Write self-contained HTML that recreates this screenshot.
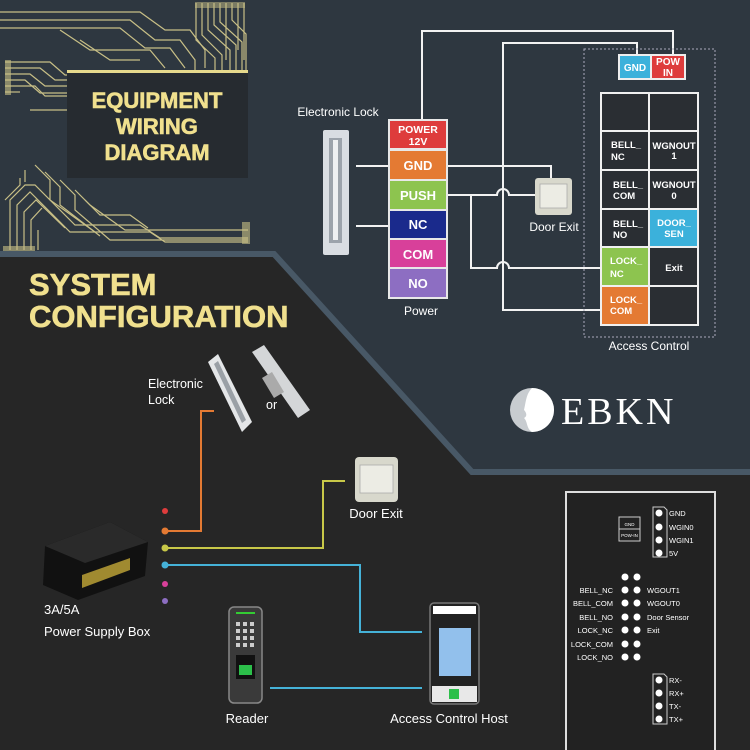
<!DOCTYPE html>
<html><head><meta charset="utf-8"><style>
html,body{margin:0;padding:0;width:750px;height:750px;overflow:hidden;background:#262626;}
svg{display:block;font-family:"Liberation Sans",Arial,sans-serif;}
</style></head><body>
<svg width="750" height="750" viewBox="0 0 750 750" xmlns="http://www.w3.org/2000/svg">
<rect width="750" height="750" fill="#262626"/>
<polygon points="0,0 750,0 750,470 473,470 275,252 0,252" fill="#2e3740"/>
<polyline points="0,254 274,254 472,472 750,472" fill="none" stroke="#485866" stroke-width="6"/>

<!-- circuit traces -->
<g stroke="#c8bf86" stroke-width="1.2" fill="none">
<path d="M0,12 H140 L165,30 H190 L205,50 V68"/>
<path d="M0,20 H130 L155,40 H180 L195,60 V70"/>
<path d="M0,28 H120 L145,48 H170 L185,68"/>
<path d="M60,30 L90,50 H150 L165,68"/>
<path d="M80,40 L110,60 H140"/>
<path d="M196,3 V40 L215,58 V70"/><path d="M202,3 V35 L222,55 V70"/><path d="M208,3 V30 L230,50 V70"/>
<path d="M214,3 V25 L236,45 V70"/><path d="M220,3 V22 L242,42 V70"/><path d="M226,3 V60"/><path d="M232,3 V20 L246,34 V70"/>
<path d="M238,3 V50"/><path d="M244,3 V60"/>
<path d="M5,62 H50 L65,75 H67"/><path d="M5,68 H40 L55,80 H67"/><path d="M5,74 H30 L45,86 H67"/>
<path d="M5,80 H25 L40,93 H67"/><path d="M5,86 H35 L45,96 H67"/><path d="M5,92 H20"/><path d="M30,110 H67"/>
<path d="M5,200 L20,185 V178"/><path d="M10,250 V200 L25,185 H35 L75,225 H140 L160,238 H248"/>
<path d="M17,250 V205 L30,192 L70,232 H150 L165,242 H248"/>
<path d="M24,250 V212 L36,200 L65,228"/>
<path d="M31,250 V220 L42,208"/><path d="M38,250 V230"/>
<path d="M35,165 L50,180 V200 L95,232"/><path d="M45,172 L60,187 V205 L100,236"/>
<path d="M25,170 V182"/><path d="M60,180 L75,195 V210 L110,240 H248"/><path d="M75,190 L90,205 L125,230 H248"/>
<path d="M85,200 L100,215 H130 L148,228"/>
</g>
<g fill="#c8bf86"><rect x="5" y="60" width="6" height="35" opacity=".6"/><rect x="242" y="222" width="8" height="22" opacity=".6"/><rect x="195" y="2" width="50" height="6" opacity=".5"/><rect x="3" y="246" width="32" height="5" opacity=".6"/></g>

<!-- title box -->
<rect x="67" y="72" width="181" height="106" fill="#262b30"/>
<rect x="67" y="70" width="181" height="3" fill="#e6d98c"/>
<g fill="#f0e08e" font-weight="bold" font-size="22" text-anchor="middle" stroke="#f0e08e" stroke-width="0.6">
<text x="157" y="108">EQUIPMENT</text><text x="157" y="134">WIRING</text><text x="157" y="160">DIAGRAM</text>
</g>
<g fill="#f0e08e" font-weight="bold" font-size="31" stroke="#f0e08e" stroke-width="0.6">
<text x="29" y="295">SYSTEM</text><text x="29" y="327">CONFIGURATION</text>
</g>

<!-- top diagram wires -->
<g stroke="#f2f2f2" stroke-width="2" fill="none">
<path d="M422,120 V31 H673 V54"/>
<path d="M637,54 V43 H503 V310 H600"/>
<path d="M447,166 H551 V178"/>
<path d="M447,195 H497 a6,6 0 0 1 12,0 H535"/>
<path d="M471,195 V268 H497 a6,6 0 0 1 12,0 H600"/>
<path d="M356,166 H390"/><path d="M356,226 H390"/>
</g>
<text x="338" y="116" fill="#fff" font-size="12" text-anchor="middle">Electronic Lock</text>
<!-- lock -->
<rect x="323" y="130" width="26" height="125" rx="2" fill="#d9dde2"/>
<rect x="329" y="138" width="13" height="105" fill="#9ca3ab"/>
<rect x="333" y="140" width="5" height="100" fill="#eef0f2"/>

<!-- power blocks -->
<rect x="388" y="119" width="60" height="180" fill="#e8e8e8"/>
<g font-weight="bold" fill="#fff" text-anchor="middle">
<rect x="390" y="121" width="56" height="27" fill="#de3c3c"/><text x="418" y="133" font-size="10.5">POWER</text><text x="418" y="145" font-size="10.5">12V</text>
<rect x="390" y="151" width="56" height="28" fill="#e47a33"/><text x="418" y="170" font-size="13">GND</text>
<rect x="390" y="181" width="56" height="28" fill="#8dc44f"/><text x="418" y="200" font-size="13">PUSH</text>
<rect x="390" y="211" width="56" height="27" fill="#1a2a8c"/><text x="418" y="229" font-size="13">NC</text>
<rect x="390" y="240" width="56" height="27" fill="#d8409a"/><text x="418" y="259" font-size="13">COM</text>
<rect x="390" y="269" width="56" height="28" fill="#8d6ec2"/><text x="418" y="288" font-size="13">NO</text>
</g>
<text x="421" y="315" fill="#fff" font-size="12" text-anchor="middle">Power</text>

<!-- door exit top -->
<rect x="535" y="178" width="37" height="37" rx="3" fill="#d8d8cc"/>
<rect x="540" y="184" width="27" height="24" fill="#ecece4" stroke="#aaa" stroke-width=".8"/>
<text x="554" y="231" fill="#fff" font-size="12" text-anchor="middle">Door Exit</text>

<!-- access control -->
<rect x="584" y="49" width="131" height="288" fill="none" stroke="#aab" stroke-width="1" stroke-dasharray="2,2"/>
<rect x="618" y="54" width="68" height="26" fill="#eee"/>
<rect x="620" y="56" width="30" height="22" fill="#3bb1db"/><rect x="652" y="56" width="32" height="22" fill="#de3c3c"/>
<g fill="#fff" font-weight="bold" font-size="10" text-anchor="middle">
<text x="635" y="71">GND</text><text x="668" y="65">POW</text><text x="668" y="76">IN</text></g>
<rect x="600" y="92" width="99" height="234" fill="#f0f0f0"/>
<g fill="#2a2e33">
<rect x="602" y="94" width="46" height="36"/><rect x="650" y="94" width="47" height="36"/>
<rect x="602" y="132" width="46" height="37"/><rect x="650" y="132" width="47" height="37"/>
<rect x="602" y="171" width="46" height="37"/><rect x="650" y="171" width="47" height="37"/>
<rect x="602" y="210" width="46" height="36"/><rect x="650" y="210" width="47" height="36" fill="#3bb1db"/>
<rect x="602" y="248" width="46" height="37" fill="#8dc44f"/><rect x="650" y="248" width="47" height="37"/>
<rect x="602" y="287" width="46" height="37" fill="#e47a33"/><rect x="650" y="287" width="47" height="37"/>
</g>
<g fill="#fff" font-weight="bold" font-size="9.5">
<text x="611" y="148">BELL_</text><text x="611" y="160">NC</text>
<text x="613" y="188">BELL_</text><text x="613" y="199">COM</text>
<text x="613" y="227">BELL_</text><text x="613" y="238">NO</text>
<text x="610" y="264">LOCK_</text><text x="610" y="277">NC</text>
<text x="610" y="303">LOCK_</text><text x="610" y="314">COM</text>
<g text-anchor="middle"><text x="674" y="149">WGNOUT</text><text x="674" y="159">1</text>
<text x="674" y="188">WGNOUT</text><text x="674" y="199">0</text>
<text x="674" y="226">DOOR_</text><text x="674" y="237">SEN</text>
<text x="674" y="271">Exit</text></g>
</g>
<text x="649" y="350" fill="#fff" font-size="12" text-anchor="middle">Access Control</text>

<!-- logo -->
<circle cx="532" cy="410" r="22" fill="#c8ccd0"/>
<path d="M532,388 a22,22 0 0 1 0,44 c-6,-4 -4,-10 -8,-14 c4,-2 2,-6 0,-8 c2,-8 2,-16 8,-22z" fill="#fff"/>
<text x="561" y="424" fill="#fff" font-family="Liberation Serif,serif" font-size="38" letter-spacing="3">EBKN</text>

<!-- bottom wires -->
<g fill="none" stroke-width="2">
<path d="M165,531 H201 V411 H214" stroke="#e47a33"/>
<path d="M165,548 H323 V481 H345" stroke="#c8c848"/>
<path d="M165,565 H360 V632 H422" stroke="#45b2d8"/>
<path d="M270,688 H422" stroke="#45b2d8"/>
</g>
<circle cx="165" cy="511" r="3" fill="#de3c3c"/><circle cx="165" cy="531" r="3.5" fill="#e47a33"/>
<circle cx="165" cy="548" r="3.5" fill="#c8c848"/><circle cx="165" cy="565" r="3.5" fill="#45b2d8"/>
<circle cx="165" cy="584" r="3" fill="#d8409a"/><circle cx="165" cy="601" r="3" fill="#8d6ec2"/>

<!-- bottom locks -->
<g fill="#fff" font-size="12.5"><text x="148" y="388">Electronic</text><text x="148" y="404">Lock</text><text x="266" y="409">or</text></g>
<polygon points="208,362 218,354 252,422 242,432" fill="#e4e6e8"/>
<polygon points="214,364 218,361 246,420 242,423" fill="#9aa0a6"/>
<polygon points="252,352 264,345 310,410 298,418" fill="#d4d6d8"/>
<polygon points="262,378 272,372 284,392 274,398" fill="#aaa"/>

<!-- power supply box -->
<polygon points="45,546 110,522 148,542 145,576 78,600 43,585" fill="#111"/>
<polygon points="45,546 110,522 148,542 85,563" fill="#2a2a2a"/>
<polygon points="82,575 130,558 130,570 82,588" fill="#a08a30"/>
<g fill="#fff" font-size="13"><text x="44" y="614">3A/5A</text><text x="44" y="636">Power Supply Box</text></g>

<!-- door exit bottom -->
<rect x="355" y="457" width="43" height="45" rx="4" fill="#d8d8cc"/>
<rect x="360" y="465" width="33" height="28" fill="#ecece4" stroke="#aaa" stroke-width=".8"/>
<text x="376" y="518" fill="#fff" font-size="13" text-anchor="middle">Door Exit</text>

<!-- reader -->
<rect x="229" y="607" width="33" height="96" rx="5" fill="#3a3a3a" stroke="#888" stroke-width="1.5"/>
<rect x="236" y="612" width="19" height="2" fill="#3c3"/>
<g fill="#ccc"><rect x="236" y="622" width="4" height="4"/><rect x="243" y="622" width="4" height="4"/><rect x="250" y="622" width="4" height="4"/>
<rect x="236" y="629" width="4" height="4"/><rect x="243" y="629" width="4" height="4"/><rect x="250" y="629" width="4" height="4"/>
<rect x="236" y="636" width="4" height="4"/><rect x="243" y="636" width="4" height="4"/><rect x="250" y="636" width="4" height="4"/>
<rect x="236" y="643" width="4" height="4"/><rect x="243" y="643" width="4" height="4"/><rect x="250" y="643" width="4" height="4"/></g>
<rect x="236" y="655" width="19" height="24" fill="#111"/><rect x="239" y="665" width="13" height="10" fill="#2cbf4a"/>
<text x="247" y="723" fill="#fff" font-size="13" text-anchor="middle">Reader</text>

<!-- host -->
<rect x="430" y="603" width="49" height="101" rx="4" fill="#222" stroke="#777" stroke-width="1.5"/>
<rect x="433" y="606" width="43" height="8" fill="#fff"/>
<rect x="439" y="628" width="32" height="48" fill="#92c0ec"/>
<rect x="432" y="686" width="45" height="16" fill="#e8e8e8"/><rect x="449" y="689" width="10" height="10" fill="#2cbf4a"/>
<text x="449" y="723" fill="#fff" font-size="13" text-anchor="middle">Access Control Host</text>

<!-- right board -->
<rect x="566" y="492" width="149" height="262" fill="#222" stroke="#ddd" stroke-width="2"/>
<rect x="619" y="517" width="21" height="24" fill="none" stroke="#ccc" stroke-width="1"/>
<line x1="619" y1="529" x2="640" y2="529" stroke="#ccc" stroke-width="1"/>
<g fill="#fff" font-size="4.5" text-anchor="middle"><text x="629.5" y="526">GND</text><text x="629.5" y="537">POW-IN</text></g>
<path d="M653,507 H664 L667,510 V557 H653 Z" fill="none" stroke="#ccc" stroke-width="1"/>
<path d="M653,674 H664 L667,677 V724 H653 Z" fill="none" stroke="#ccc" stroke-width="1"/>
<g fill="#fff">
<circle cx="659" cy="513" r="3.5"/><circle cx="659" cy="527" r="3.5"/><circle cx="659" cy="540" r="3.5"/><circle cx="659" cy="553" r="3.5"/>
<circle cx="659" cy="680" r="3.5"/><circle cx="659" cy="693" r="3.5"/><circle cx="659" cy="706" r="3.5"/><circle cx="659" cy="719" r="3.5"/>
<circle cx="625" cy="577" r="3.5"/><circle cx="637" cy="577" r="3.5"/><circle cx="625" cy="590" r="3.5"/><circle cx="637" cy="590" r="3.5"/>
<circle cx="625" cy="603" r="3.5"/><circle cx="637" cy="603" r="3.5"/><circle cx="625" cy="617" r="3.5"/><circle cx="637" cy="617" r="3.5"/>
<circle cx="625" cy="630" r="3.5"/><circle cx="637" cy="630" r="3.5"/><circle cx="625" cy="644" r="3.5"/><circle cx="637" cy="644" r="3.5"/>
<circle cx="625" cy="657" r="3.5"/><circle cx="637" cy="657" r="3.5"/>
</g>
<g fill="#fff" font-size="7.5">
<text x="669" y="516">GND</text><text x="669" y="530">WGIN0</text><text x="669" y="543">WGIN1</text><text x="669" y="556">5V</text>
<text x="669" y="683">RX-</text><text x="669" y="696">RX+</text><text x="669" y="709">TX-</text><text x="669" y="722">TX+</text>
<text x="647" y="593">WGOUT1</text><text x="647" y="606">WGOUT0</text><text x="647" y="620">Door Sensor</text><text x="647" y="633">Exit</text>
<g text-anchor="end"><text x="613" y="593">BELL_NC</text><text x="613" y="606">BELL_COM</text><text x="613" y="620">BELL_NO</text>
<text x="613" y="633">LOCK_NC</text><text x="613" y="647">LOCK_COM</text><text x="613" y="660">LOCK_NO</text></g>
</g>
</svg>
</body></html>
